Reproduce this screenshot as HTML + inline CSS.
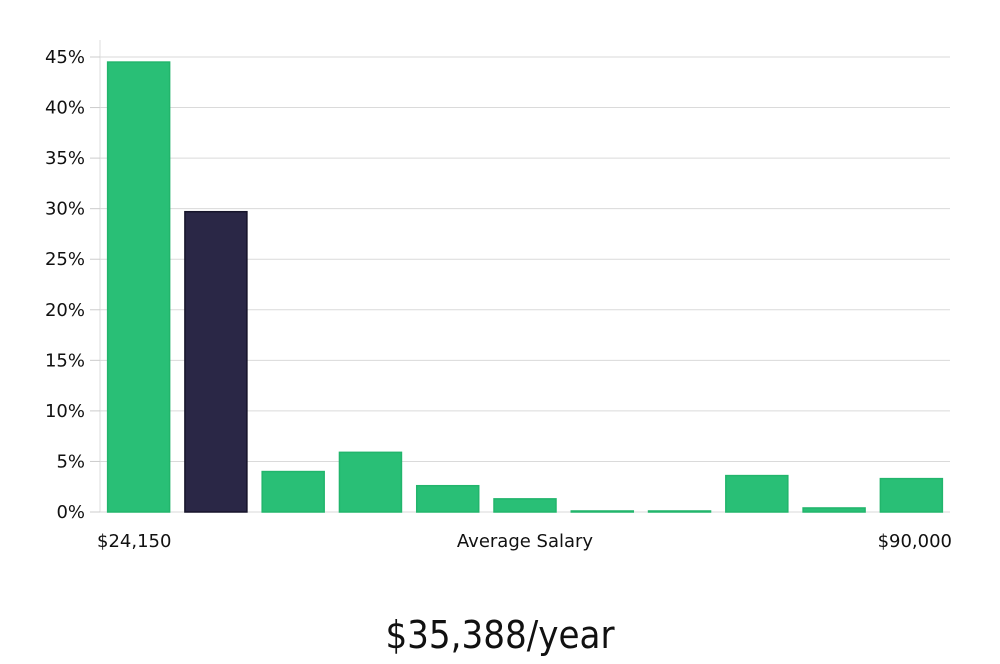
<!DOCTYPE html>
<html><head><meta charset="utf-8"><style>
body{margin:0;background:#fff;width:1000px;height:660px;overflow:hidden;font-family:"DejaVu Sans","Liberation Sans",sans-serif}
</style></head><body>
<svg width="1000" height="660" xmlns="http://www.w3.org/2000/svg">
<g id="grid"></g><g id="bars"></g>
<text x="97" y="547" font-size="18" fill="#111">$24,150</text>
<text x="525" y="547" font-size="18" fill="#111" text-anchor="middle">Average Salary</text>
<text x="952" y="547" font-size="18" fill="#111" text-anchor="end">$90,000</text>
<text x="500" y="648" font-size="38" fill="#111" text-anchor="middle" font-family="'DejaVu Sans Condensed','Liberation Sans Narrow',sans-serif" font-weight="300">$35,388/year</text>
</svg>
<script>
const values=[44.5,29.7,4.0,5.9,2.6,1.3,0.1,0.1,3.6,0.4,3.3];
const highlight=[false,true,false,false,false,false,false,false,false,false,false];
const ticks=[0,5,10,15,20,25,30,35,40,45];
const tickLabels=["0%","5%","10%","15%","20%","25%","30%","35%","40%","45%"];
const NS="http://www.w3.org/2000/svg";
const x0=100,x1=950,yb=512,yt=57,vmax=45;
const y=v=>yb-(v/vmax)*(yb-yt);
const g=document.getElementById('grid'),b=document.getElementById('bars');
function mk(t,a,p){const e=document.createElementNS(NS,t);for(const k in a)e.setAttribute(k,a[k]);p.appendChild(e);return e;}
const ax=mk('line',{x1:x0,x2:x0,y1:40,y2:yb,stroke:'#ddd','stroke-width':1},g);


ticks.forEach((t,i)=>{
 const l=mk('line',{x1:x0,x2:x1,y1:y(t),y2:y(t),stroke:'#dadada','stroke-width':1},g);
 
 
 const tm=mk('line',{x1:90,x2:x0,y1:y(t),y2:y(t),stroke:'#ccc','stroke-width':1},g);
 
 
 const tx=mk('text',{x:85,y:y(t)+6,'font-size':18,fill:'#111','text-anchor':'end'},g);
 tx.textContent=tickLabels[i];
 
 
});
const step=(x1-x0)/values.length,bw=62;
values.forEach((v,i)=>{
 const h=highlight[i];
 const r=mk('rect',{x:x0+i*step+(step-bw)/2,y:y(v),width:bw,height:Math.max(yb-y(v),1),fill:h?'#2a2746':'#29bf76',stroke:h?'#16142a':'#22b56c','stroke-width':1.5},b);
 
 
});
</script>
</body></html>
